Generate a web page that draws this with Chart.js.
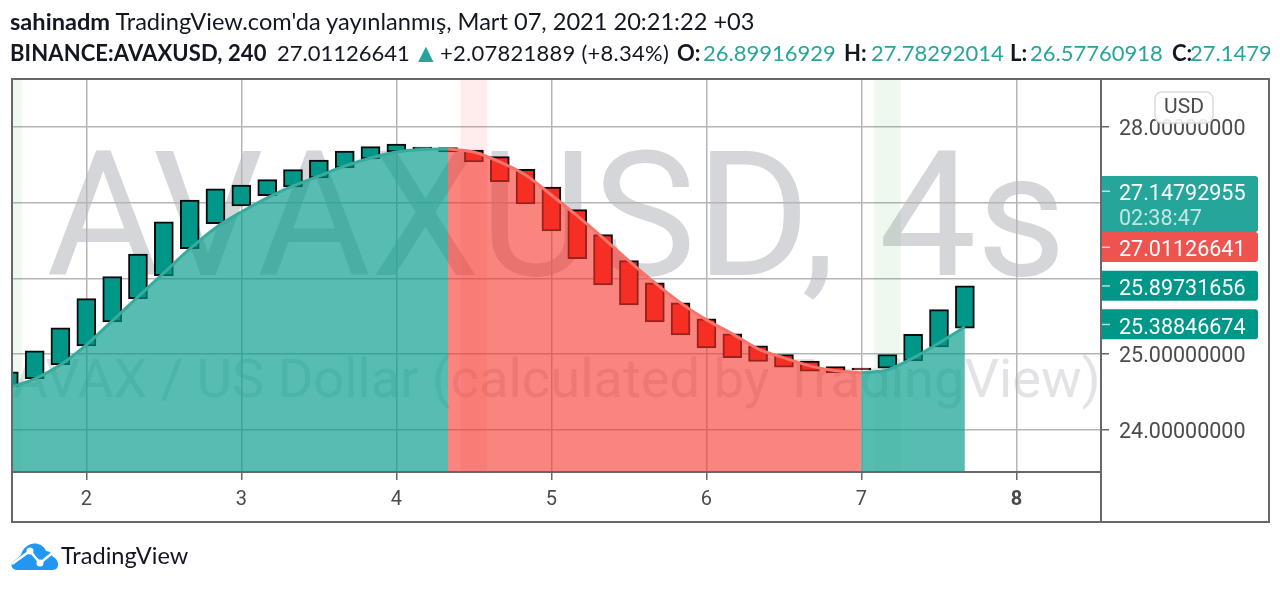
<!DOCTYPE html>
<html>
<head>
<meta charset="utf-8">
<title>AVAXUSD</title>
<script src="https://cdn.jsdelivr.net/npm/chart.js@4"></script>
<style>
  html, body { margin: 0; padding: 0; background: #fff; overflow: hidden; }
  #wrap { position: relative; width: 1280px; height: 589px; overflow: hidden; }
  canvas { position: absolute; left: 0; top: 0; }
  .line { position: absolute; left: 10px; right: 10px; height: 30px; white-space: nowrap; overflow: hidden; font-family: Lato, sans-serif; color: #131722; }
  .line b { font-weight: 700; }
  .line span, .line b.at { position: absolute; top: 0; }
  .up { color: #26a69a; }
  #logoText { position: absolute; left: 61px; top: 541px; font-family: Lato, sans-serif; font-size: 23.6px; color: #131722; }
  #logo { position: absolute; left: 11px; top: 542px; }
</style>
</head>
<body>
<div id="wrap">
  <canvas id="chart" width="1280" height="589"></canvas>
  <div class="line" style="top:7px;font-size:23.6px"><b>sahinadm</b> TradingView.com'da yayınlanmış, Mart 07, 2021 20:21:22 +03</div>
  <div class="line" style="top:39px;font-size:22px">
    <b class="at" style="left:0;letter-spacing:.1px">BINANCE:AVAXUSD, 240</b>
    <span style="left:267px">27.01126641</span>
    <span class="up" style="left:403px;top:-3px;font-size:26px">▲</span>
    <span style="left:430px;letter-spacing:.25px">+2.07821889 (+8.34%)</span>
    <b class="at" style="left:667px">O:</b><span class="up" style="left:693px">26.89916929</span>
    <b class="at" style="left:834px">H:</b><span class="up" style="left:861px">27.78292014</span>
    <b class="at" style="left:1000px">L:</b><span class="up" style="left:1020px">26.57760918</span>
    <b class="at" style="left:1162px">C:</b><span class="up" style="left:1180px">27.14792955</span>
  </div>
  <svg id="logo" width="48" height="30" viewBox="0 0 48 30">
    <path d="M5 28 C0 27 -1 22 3 19 L10 13 C12 5 20 0 27 2 C31 3 34 6 35 9 C39 9 41 12 41 14 C45 16 48 20 47 24 C46 27 44 28 41 28 Z" fill="#2196f3"/>
    <polyline points="1,22 19,9 29,21 44,9" fill="none" stroke="#fff" stroke-width="2.5"/>
    <circle cx="19" cy="9" r="3.5" fill="#fff"/>
    <circle cx="29" cy="21" r="3.5" fill="#fff"/>
  </svg>
  <div id="logoText">TradingView</div>
</div>

<script>
// days of march, one candle every 4 hours
const candleDays = [1.5, 1.667, 1.833, 2, 2.167, 2.333, 2.5, 2.667, 2.833, 3, 3.167, 3.333, 3.5,
  3.667, 3.833, 4, 4.167, 4.333, 4.5, 4.667, 4.833, 5, 5.167, 5.333, 5.5, 5.667, 5.833, 6,
  6.167, 6.333, 6.5, 6.667, 6.833, 7, 7.167, 7.333, 7.5, 7.667];

const candleOpen = [24.568, 24.677, 24.862, 25.109, 25.426, 25.733, 26.037, 26.393, 26.723, 26.957,
  27.093, 27.208, 27.327, 27.459, 27.578, 27.67, 27.71, 27.67, 27.696, 27.608, 27.442, 27.208,
  26.908, 26.578, 26.235, 25.941, 25.677, 25.465, 25.267, 25.109, 24.994, 24.907, 24.836, 24.814,
  24.814, 24.911, 25.096, 25.343];

const candleClose = [24.766, 25.043, 25.347, 25.733, 26.024, 26.323, 26.746, 27.036, 27.182, 27.234,
  27.304, 27.436, 27.564, 27.683, 27.74, 27.776, 27.736, 27.727, 27.538, 27.278, 26.983, 26.627,
  26.261, 25.914, 25.65, 25.426, 25.254, 25.083, 24.954, 24.902, 24.828, 24.775, 24.756, 24.792,
  24.994, 25.263, 25.588, 25.901];

const areaValues = [24.554, 24.673, 24.858, 25.122, 25.439, 25.756, 26.073, 26.389, 26.667, 26.878,
  27.063, 27.221, 27.353, 27.485, 27.591, 27.67, 27.703, 27.71, 27.67, 27.538, 27.366, 27.102,
  26.825, 26.535, 26.231, 25.941, 25.677, 25.452, 25.267, 25.069, 24.95, 24.845, 24.779, 24.752,
  24.792, 24.95, 25.149, 25.36];

const greenBands = [1.5, 7.167];
const redBands = [4.5];

const priceTicks = [24, 25, 26, 27, 28];
const dayTicks = [2, 3, 4, 5, 6, 7, 8];

const tagPrices = [27.14792955, 27.01126641, 25.89731656, 25.38846674];
const tagColors = ["#26a69a", "#ef5350", "#009688", "#009688"];

const yMin = 23.443, yMax = 28.634;
const xMin = 1.5205, xMax = 8.545;

const FRAME = "#68686c";
const TEXT = "#4a4a4f";

function areaPart(from, to, line, fill) {
  const points = [];
  for (let i = from; i <= to; i++) points.push({ x: candleDays[i], y: areaValues[i] });
  return {
    type: "line",
    data: points,
    borderColor: line,
    backgroundColor: fill,
    borderWidth: 3,
    pointRadius: 0,
    tension: 0.3,
    fill: "start",
    clip: 0,
    order: 1
  };
}

function bandSet(days, color) {
  return {
    type: "bar",
    data: days.map(d => ({ x: d, y: [yMin, yMax] })),
    backgroundColor: color,
    barThickness: 26,
    grouped: false,
    clip: 0,
    order: 3
  };
}

const watermark = {
  id: "watermark",
  beforeDraw(chart) {
    const { ctx, chartArea: a } = chart;
    ctx.save();
    ctx.beginPath();
    ctx.rect(a.left, a.top, a.right - a.left, a.bottom - a.top);
    ctx.clip();
    ctx.textAlign = "center";
    ctx.fillStyle = "#d5d6d9";
    ctx.font = "174px Roboto";
    ctx.fillText("AVAXUSD, 4s", (a.left + a.right) / 2, 275);
    ctx.fillStyle = "#e2e3e6";
    ctx.font = "54.3px Roboto";
    ctx.fillText("AVAX / US Dollar (calculated by TradingView)", (a.left + a.right) / 2, 397);
    ctx.restore();
  }
};

const frameAndTags = {
  id: "frameAndTags",
  afterDraw(chart) {
    const { ctx, chartArea: a, scales } = chart;
    const right = 1269, bottom = 522;

    // price tags, pushed down when they would overlap the one above
    let prevBottom = 0;
    ctx.save();
    ctx.textBaseline = "middle";
    tagPrices.forEach((price, i) => {
      const two = i === 0;
      const h = two ? 56 : 30;
      const top = Math.max(scales.y.getPixelForValue(price) - 15.5, prevBottom);
      ctx.fillStyle = tagColors[i];
      ctx.beginPath();
      ctx.roundRect(a.right, top, 157, h, [0, 3, 3, 0]);
      ctx.fill();
      ctx.font = "21.5px Roboto";
      ctx.fillStyle = "#fff";
      ctx.textAlign = "left";
      ctx.fillText(price.toFixed(8), 1119, top + 19);
      if (two) {
        ctx.fillStyle = "rgba(255,255,255,0.72)";
        ctx.fillText("02:38:47", 1119, top + 44);
      }
      ctx.fillStyle = "rgba(255,255,255,0.7)";
      ctx.fillRect(a.right, top + 14.5, 9, 1.5);
      prevBottom = top + h;
    });

    // USD button
    ctx.fillStyle = "rgba(255,255,255,0.88)";
    ctx.strokeStyle = "#dcdcdf";
    ctx.lineWidth = 1.5;
    ctx.beginPath();
    ctx.roundRect(1155, 92, 58, 31, 7);
    ctx.fill();
    ctx.stroke();
    ctx.fillStyle = TEXT;
    ctx.textAlign = "center";
    ctx.font = "21px Roboto";
    ctx.fillText("USD", 1184, 108);

    ctx.strokeStyle = FRAME;
    ctx.lineWidth = 2;
    ctx.strokeRect(a.left, a.top, right - a.left, bottom - a.top);
    ctx.beginPath();
    ctx.moveTo(a.right, a.top);
    ctx.lineTo(a.right, bottom);
    ctx.moveTo(a.left, a.bottom);
    ctx.lineTo(a.right, a.bottom);
    ctx.stroke();
    ctx.restore();
  }
};

const candleColors = candleDays.map((d, i) => candleClose[i] >= candleOpen[i] ? "#009688" : "#f6281f");

new Chart(document.getElementById("chart").getContext("2d"), {
  type: "bar",
  data: {
    datasets: [
      areaPart(0, 17, "#38ab9e", "rgba(0,155,138,0.66)"),
      areaPart(17, 33, "#f8726a", "rgba(247,50,40,0.6)"),
      areaPart(33, 37, "#38ab9e", "rgba(0,155,138,0.66)"),
      {
        type: "bar",
        data: candleDays.map((d, i) => ({ x: d, y: [candleOpen[i], candleClose[i]] })),
        backgroundColor: candleColors,
        borderColor: "#0b0b0b",
        borderWidth: 2,
        borderSkipped: false,
        barThickness: 19,
        grouped: false,
        clip: 0,
        order: 2
      },
      bandSet(greenBands, "rgba(76,175,80,0.09)"),
      bandSet(redBands, "rgba(255,82,82,0.11)")
    ]
  },
  options: {
    responsive: false,
    animation: false,
    layout: { padding: { left: 12, top: 79, right: 11, bottom: 67 } },
    plugins: { legend: { display: false }, tooltip: { enabled: false } },
    scales: {
      x: {
        type: "linear",
        min: xMin,
        max: xMax,
        offset: false,
        grid: { offset: false, color: "#b5b5b8", lineWidth: 1.5, tickLength: 8, tickColor: FRAME },
        border: { display: false },
        afterFit(s) { s.height = 50; },
        afterBuildTicks(s) { s.ticks = dayTicks.map(v => ({ value: v })); },
        ticks: {
          maxRotation: 0,
          padding: 8,
          color: TEXT,
          font: ctx => ({ family: "Roboto", size: 20, weight: ctx.tick && ctx.tick.value === 8 ? "bold" : "normal" })
        }
      },
      y: {
        position: "right",
        min: yMin,
        max: yMax,
        beginAtZero: false,
        grid: { color: "#b5b5b8", lineWidth: 1.5, tickLength: 8, tickColor: FRAME },
        border: { display: false },
        afterFit(s) { s.width = 168; },
        afterBuildTicks(s) { s.ticks = priceTicks.map(v => ({ value: v })); },
        ticks: {
          padding: 10,
          labelOffset: 3,
          color: TEXT,
          font: { family: "Roboto", size: 21.5 },
          callback: v => v.toFixed(8)
        }
      }
    }
  },
  plugins: [watermark, frameAndTags]
});
</script>
</body>
</html>
